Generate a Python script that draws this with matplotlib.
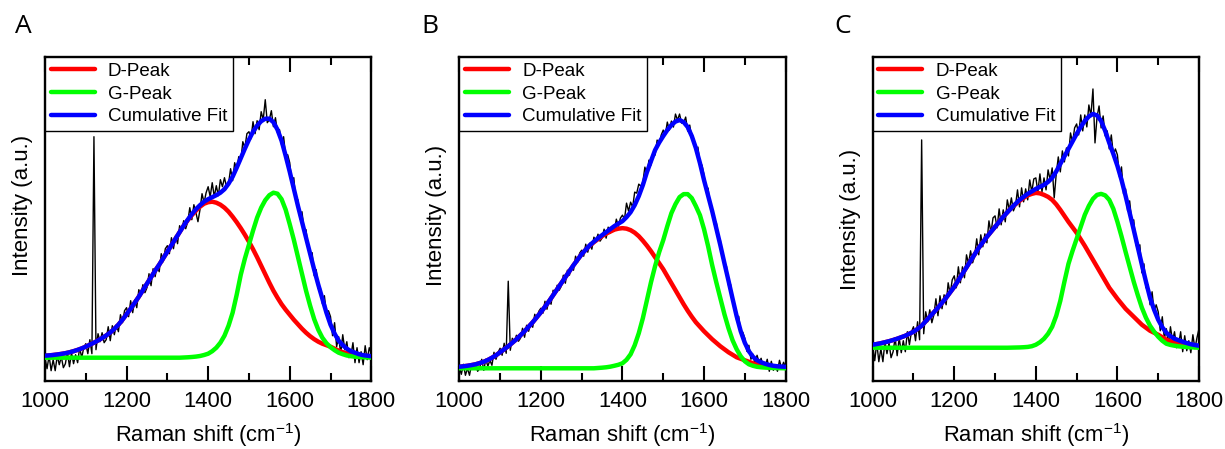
import matplotlib
matplotlib.use('Agg')
import matplotlib.pyplot as plt
from matplotlib.ticker import MultipleLocator

plt.rcParams['font.family'] = ['Liberation Sans', 'DejaVu Sans']
plt.rcParams['mathtext.fontset'] = 'custom'
plt.rcParams['mathtext.rm'] = 'Liberation Sans'
plt.rcParams['mathtext.default'] = 'regular'

# ---------------- data ----------------
wavenumber_fit = list(range(1000, 1801, 10))   # fit curves sampled every 10 cm-1
wavenumber_raw = list(range(1000, 1801, 5))    # measured spectrum every 5 cm-1

panel_letters = ['A', 'B', 'C']
legend_labels = ['D-Peak', 'G-Peak', 'Cumulative Fit']
x_ticks = [1000, 1200, 1400, 1600, 1800]

# ---- Panel A ----
a_cumulative = [2, 2.3, 2.7, 3.2, 3.8, 4.5, 5.4, 6.5, 7.8, 9.3, 11,
                13, 15, 17.2, 19.6, 22.2, 25.2, 28.8, 33, 38, 43.5,
                49, 55, 61, 67.5, 74, 80.5, 87, 93, 99.5, 106,
                112.5, 119, 125.5, 132, 138, 143.5, 148.5, 152.5, 156, 158.5,
                160.5, 162.5, 165, 168.5, 174, 181, 190, 199.5, 209, 218,
                226, 232, 236.5, 239, 239, 235.5, 228, 217, 202, 186,
                169, 152, 136, 120, 104, 88, 73, 59, 45, 33,
                24, 17, 12.5, 9, 6.5, 5, 3.5, 2.5, 2, 1.5]
a_d_peak = [2, 2.3, 2.7, 3.2, 3.8, 4.5, 5.4, 6.5, 7.8, 9.3, 11,
            13, 15, 17.2, 19.6, 22.2, 25.2, 28.8, 33, 38, 43.5,
            49, 55, 61, 67.5, 74, 80.5, 87, 93, 99.5, 106,
            112.5, 119, 125.5, 132, 137.5, 142.5, 147, 151, 154, 155.5,
            156, 155, 153, 150, 146, 141, 135.5, 129.5, 123, 116,
            108.5, 100.5, 92, 83.5, 75, 67, 60, 53.5, 48, 43,
            38, 33.5, 29, 25, 21.5, 18.5, 16, 14, 12.5, 11,
            9, 7, 5.5, 4.5, 3.5, 3, 2.5, 2, 1.7, 1.5]
a_g_peak = [0] * 34 + [0.2, 0.4, 0.7, 1.1, 1.7, 2.7, 4,
                       6.5, 10, 15, 22, 32, 45, 63, 83, 99, 113,
                       127, 140, 150, 157.5, 162.5, 165, 164, 158.5, 148, 133.5,
                       118, 101, 84, 67, 52, 38.5, 28, 20, 14.5, 10.5,
                       7.5, 5, 3.5, 2.2, 1.5, 1, 0.7, 0.4, 0.2, 0]
a_raw = [0, -11, 2, -13, -2, -13, 2, -7, 1, -10,
         -6, 6, -9, 5, -6, 3, -5, 10, 0, 10,
         14, 4, 18, 4, 221, 8, 24, 16, 25, 15,
         18, 31, 17, 32, 23, 33, 26, 43, 35, 47,
         50, 41, 57, 45, 58, 50, 68, 62, 73, 65,
         70, 84, 72, 89, 81, 92, 86, 104, 96, 109,
         112, 104, 120, 109, 122, 114, 132, 127, 137, 129,
         136, 150, 138, 153, 145, 136, 148, 164, 155, 165,
         171, 161, 175, 161, 172, 162, 178, 171, 180, 171,
         174, 189, 177, 195, 188, 201, 197, 216, 210, 224,
         226, 219, 236, 224, 237, 228, 246, 238, 258, 235,
         238, 247, 231, 240, 225, 228, 213, 221, 202, 203,
         195, 176, 180, 157, 158, 139, 146, 129, 128, 109,
         102, 105, 82, 88, 69, 70, 54, 62, 44, 47,
         41, 22, 35, 11, 21, 4, 23, 8, 16, 0,
         2, 15, -5, 10, -5, 6, -7, 12, -2, 10,
         4]

# ---- Panel B ----
b_cumulative = [1.5, 2, 2.5, 3.2, 4, 5.2, 6.5, 8.3, 10.5, 13, 16,
                19, 22, 25.5, 29, 33, 37, 41.5, 46, 51, 56,
                61.5, 67, 73, 79, 85, 91, 97, 103, 108.5, 114,
                118.5, 123, 126.5, 130, 133, 136, 139, 142, 144.5, 147,
                151, 156, 163, 172, 183, 196, 207, 218, 225.5, 232,
                238, 243, 246.5, 248, 246, 241, 232, 220, 205, 188,
                172.5, 157, 140, 123, 105, 87.5, 69.5, 52, 37, 25.5,
                17, 11.5, 8, 6, 4.5, 3.3, 2.5, 2, 1.7, 1.5]
b_d_peak = [1.5, 2, 2.5, 3.2, 4, 5.2, 6.5, 8.3, 10.5, 13, 16,
            19, 22, 25.5, 29, 33, 37, 41.5, 46, 51, 56,
            61.5, 67, 73, 79, 85, 91, 97, 103, 108.5, 114,
            118.5, 122.5, 126, 129, 132, 134.5, 136.5, 138.5, 139.5, 140,
            139.5, 138, 135.5, 132, 127.5, 122.5, 117, 111, 105, 99,
            92, 85, 78, 71, 64, 57.5, 51.5, 46, 41.5, 37,
            33, 29, 25.5, 22, 19, 16, 13.5, 11, 9.5, 8,
            6.5, 5, 4, 3, 2.5, 2, 1.5, 1, 0.7, 0.5]
b_g_peak = [0] * 34 + [0.3, 0.6, 1, 1.6, 2.5, 3.5, 5,
                       8.5, 14, 23, 35, 50, 68, 86, 102, 116, 128,
                       142, 155, 164, 171, 174, 174, 170, 162, 153, 139,
                       122, 103, 86, 70, 54, 40, 28, 19, 12, 7,
                       4, 2.5, 1.5, 1, 0.7, 0.5, 0.3, 0.2, 0.1, 0]
b_raw = [1, -6, 4, -7, 0, -7, 4, -1, 4, -3,
         0, 9, -2, 9, 2, 8, 3, 16, 9, 16,
         20, 13, 25, 15, 87, 18, 30, 26, 33, 27,
         30, 40, 31, 43, 37, 45, 41, 54, 49, 57,
         60, 55, 67, 59, 69, 64, 78, 75, 83, 78,
         82, 93, 85, 98, 93, 101, 98, 112, 106, 115,
         118, 112, 124, 116, 125, 119, 131, 127, 134, 127,
         130, 139, 130, 141, 135, 141, 137, 149, 142, 150,
         153, 149, 165, 157, 166, 161, 176, 175, 184, 182,
         186, 201, 194, 208, 203, 214, 213, 228, 224, 233,
         238, 233, 246, 238, 247, 241, 254, 248, 254, 245,
         245, 251, 237, 243, 230, 229, 217, 221, 205, 203,
         193, 177, 180, 161, 160, 144, 146, 132, 128, 111,
         103, 102, 83, 84, 67, 63, 48, 52, 36, 36,
         30, 17, 23, 9, 14, 4, 13, 6, 10, 1,
         2, 9, -3, 7, -2, 3, -3, 8, 0, 6,
         1]

# ---- Panel C ----
c_cumulative = [3, 3.7, 4.5, 5.5, 6.5, 7.7, 9, 10.5, 12, 14, 16,
                18.8, 22, 26.5, 31, 35.5, 40, 45, 50, 55.5, 61,
                67.5, 74, 80.5, 87, 93.5, 100, 105.5, 111, 116, 121,
                126, 131, 135.5, 140, 144, 148, 151, 154, 156.5, 159,
                161, 163, 166, 170, 176.5, 184, 191.5, 199, 206.5, 214,
                221, 227, 231.5, 234, 232.5, 227, 217, 205, 194, 182,
                168, 152, 135, 118, 100.5, 83, 66, 50, 38, 28,
                20.5, 15, 11.5, 9, 7.5, 6, 4.7, 3.5, 2.7, 2]
c_d_peak = [3, 3.7, 4.5, 5.5, 6.5, 7.7, 9, 10.5, 12, 14, 16,
            18.8, 22, 26.5, 31, 35.5, 40, 45, 50, 55.5, 61,
            67.5, 74, 80.5, 87, 93.5, 100, 105.5, 111, 116, 121,
            126, 131, 135.5, 140, 143.5, 147, 150, 152.5, 154, 155,
            154.5, 153, 151, 148, 143.5, 138, 132, 126, 120.5, 115,
            108.5, 102, 95, 88, 81, 74, 67, 60, 54.5, 49,
            44, 39, 35, 31, 27, 23, 20, 17, 15, 13,
            10.5, 8, 6.5, 5, 4, 3, 2.5, 2, 1.5, 1]
c_g_peak = [0] * 34 + [0.1, 0.2, 0.3, 0.5, 0.8, 1.5, 3,
                       5.5, 9, 14, 21, 32, 47, 66, 84, 97, 109,
                       121, 133, 142, 149, 153, 154, 152.5, 148, 139, 126,
                       111.5, 96, 81, 66, 52.5, 40, 30, 22, 16, 11,
                       7, 4, 2.8, 2, 1.4, 1, 0.7, 0.4, 0.2, 0]
c_raw = [2, -13, 5, -14, -1, -14, 6, -6, 5, -10,
         -4, 10, -8, 10, -5, 7, -4, 16, 3, 16,
         21, 7, 26, 8, 208, 14, 36, 26, 38, 25,
         33, 49, 32, 52, 39, 53, 43, 65, 54, 68,
         72, 60, 81, 65, 81, 70, 93, 84, 97, 85,
         92, 109, 93, 113, 101, 114, 105, 127, 115, 130,
         132, 120, 139, 123, 138, 126, 148, 138, 150, 137,
         142, 158, 141, 160, 146, 159, 148, 168, 156, 169,
         170, 156, 174, 156, 170, 158, 178, 168, 180, 150,
         174, 191, 176, 197, 186, 200, 192, 215, 205, 220,
         224, 213, 233, 217, 233, 221, 243, 232, 259, 205,
         231, 242, 220, 232, 212, 217, 199, 213, 193, 199,
         193, 171, 181, 154, 159, 137, 147, 127, 128, 104,
         98, 103, 75, 84, 60, 63, 43, 56, 36, 43,
         36, 17, 31, 9, 19, 3, 21, 7, 16, 0,
         3, 16, -4, 12, -3, 7, -5, 13, -1, 10,
         19]

# ---------------- layout ----------------
W, H = 1225, 449
panels = [
    dict(raw=a_raw, d=a_d_peak, g=a_g_peak, fit=a_cumulative, ylim=(-23.3, 300.7),
         left=45, letter_x=15, ylab_y=0.543),
    dict(raw=b_raw, d=b_d_peak, g=b_g_peak, fit=b_cumulative, ylim=(-12.7, 311.0),
         left=459.3, letter_x=421, ylab_y=0.512),
    dict(raw=c_raw, d=c_d_peak, g=c_g_peak, fit=c_cumulative, ylim=(-33.3, 291.0),
         left=872.7, letter_x=834, ylab_y=0.50),
]

for p in panels:
    assert len(p['raw']) == len(wavenumber_raw)
    for k in ('d', 'g', 'fit'):
        assert len(p[k]) == len(wavenumber_fit), (k, len(p[k]))

fig = plt.figure(figsize=(W / 100, H / 100), dpi=100)
for letter, p in zip(panel_letters, panels):
    ax = fig.add_axes([p['left'] / W, (H - 381) / H, 326.3 / W, 324 / H])
    ax.plot(wavenumber_raw, p['raw'], color='black', lw=1.0, zorder=1)
    style = dict(lw=3.2, solid_joinstyle='round', solid_capstyle='round')
    ax.plot(wavenumber_fit, p['d'], color='#ff0000', label=legend_labels[0], zorder=2, **style)
    ax.plot(wavenumber_fit, p['g'], color='#00ff00', label=legend_labels[1], zorder=3, **style)
    ax.plot(wavenumber_fit, p['fit'], color='#0000ff', label=legend_labels[2], zorder=4, **style)
    ax.set_xlim(1000, 1800)
    ax.set_ylim(*p['ylim'])
    ax.set_xticks(x_ticks)
    ax.xaxis.set_minor_locator(MultipleLocator(100))
    ax.set_yticks([])
    ax.tick_params(axis='x', which='both', direction='in', top=True, bottom=True,
                   width=1.5, labelsize=15.8, pad=7, colors='black')
    ax.tick_params(axis='x', which='major', length=11)
    ax.tick_params(axis='x', which='minor', length=6)
    for s in ax.spines.values():
        s.set_linewidth(1.7)
    ax.set_xlabel('Raman shift (cm$^{-1}$)', fontsize=15.8, labelpad=7)
    ax.set_ylabel('Intensity (a.u.)', fontsize=16)
    ax.yaxis.set_label_coords(-0.037, p['ylab_y'])
    leg = ax.legend(loc='upper left', bbox_to_anchor=(0, 1), borderaxespad=0,
                    fontsize=13.5, handlelength=2.35, handletextpad=0.7,
                    borderpad=0.3, labelspacing=0.3, fancybox=False,
                    edgecolor='black', framealpha=1)
    leg.get_frame().set_linewidth(1.0)
    leg.set_zorder(10)
    fig.text(p['letter_x'] / W, 1 - 33 / H, letter, fontsize=19, ha='left',
             va='baseline', family=['Open Sans', 'DejaVu Sans'])

fig.savefig('out.png', dpi=100)
